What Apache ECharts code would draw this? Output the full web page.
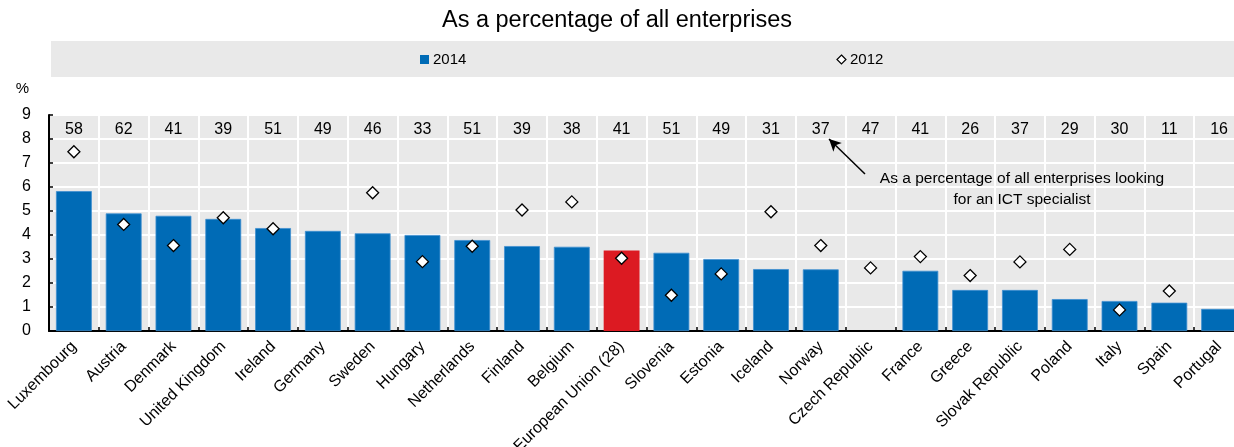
<!DOCTYPE html>
<html>
<head>
<meta charset="utf-8">
<script src="https://cdn.jsdelivr.net/npm/echarts@6/dist/echarts.min.js"></script>
<style>
html,body{margin:0;padding:0;background:#fff;}
#c{width:1234px;height:447px;}
</style>
</head>
<body>
<div id="c"></div>
<script>
const categories = ['Luxembourg','Austria','Denmark','United Kingdom','Ireland','Germany','Sweden','Hungary','Netherlands','Finland','Belgium','European Union (28)','Slovenia','Estonia','Iceland','Norway','Czech Republic','France','Greece','Slovak Republic','Poland','Italy','Spain','Portugal'];
const values2014 = [5.83, 4.90, 4.80, 4.67, 4.29, 4.17, 4.07, 4.00, 3.79, 3.54, 3.51, 3.35, 3.26, 3.00, 2.58, 2.57, null, 2.51, 1.71, 1.71, 1.33, 1.25, 1.18, 0.92];
const values2012 = [7.47, 4.44, 3.56, 4.72, 4.26, null, 5.76, 2.89, 3.53, 5.04, 5.38, 3.03, 1.49, 2.38, 4.97, 3.56, 2.63, 3.10, 2.31, 2.88, 3.40, 0.88, 1.67, null];
const pctLooking = [58, 62, 41, 39, 51, 49, 46, 33, 51, 39, 38, 41, 51, 49, 31, 37, 47, 41, 26, 37, 29, 30, 11, 16];
const yTicks = [0, 1, 2, 3, 4, 5, 6, 7, 8, 9];
const highlight = 'European Union (28)';
const titleText = 'As a percentage of all enterprises';
const noteText = 'As a percentage of all enterprises looking\nfor an ICT specialist';

const SANS = "'Liberation Sans',Arial,sans-serif";
const BLUE = '#006bb6', BLUE_EDGE = '#3f8fd0', RED = '#dc1a22', GREY = '#e9e9e9';

const chart = echarts.init(document.getElementById('c'), null, {renderer: 'canvas'});
chart.setOption({
  animation: false,
  backgroundColor: '#fff',
  title: {
    text: titleText, left: 'center', top: 9, padding: 0,
    textStyle: {fontFamily: SANS, fontSize: 23.5, fontWeight: 'normal', color: '#000'}
  },
  graphic: [
    {type: 'rect', left: 51, top: 41, shape: {width: 1200, height: 36}, style: {fill: GREY}, z: -1, silent: true},
    {type: 'text', x: 1022, y: 168, z: 100, silent: true,
     style: {text: noteText, fontFamily: SANS, fontSize: 15.5, lineHeight: 21, fill: '#000', align: 'center', verticalAlign: 'top'}}
  ],
  legend: {
    left: 420, top: 52, padding: 0, itemGap: 370, itemWidth: 9, itemHeight: 9,
    textStyle: {fontFamily: SANS, fontSize: 15, color: '#000', padding: [0, 0, 0, -1]},
    data: [
      {name: '2014', icon: 'rect', itemStyle: {color: BLUE, borderWidth: 0}},
      {name: '2012', icon: 'diamond', itemStyle: {color: '#fff', borderColor: '#000', borderWidth: 1.2}}
    ]
  },
  grid: {left: 49, width: 1195, top: 115, bottom: 116, show: true, backgroundColor: GREY, borderWidth: 0,
         containLabel: false, outerBoundsMode: 'none'},
  xAxis: [
    {
      type: 'category', data: categories, boundaryGap: true,
      axisLine: {show: true, lineStyle: {color: '#000', width: 2}},
      axisTick: {show: true, inside: true, length: 4, lineStyle: {color: '#000', width: 1.5}},
      splitLine: {show: true, lineStyle: {color: '#fff', width: 2}},
      axisLabel: {interval: 0, rotate: 45, margin: 13, fontFamily: SANS, fontSize: 16, color: '#000'}
    },
    {
      type: 'category', data: pctLooking.map(String), position: 'top', boundaryGap: true,
      axisLine: {show: false}, axisTick: {show: false}, splitLine: {show: false},
      axisLabel: {inside: true, interval: 0, margin: 7, fontFamily: SANS, fontSize: 16, color: '#000'}
    }
  ],
  yAxis: {
    type: 'value', min: yTicks[0], max: yTicks[yTicks.length - 1], interval: 1,
    name: '%', nameLocation: 'end', nameGap: 19,
    nameTextStyle: {fontFamily: SANS, fontSize: 15, color: '#000', align: 'right', padding: [0, 20, 0, 0]},
    axisLine: {show: true, lineStyle: {color: '#000', width: 2}},
    axisTick: {show: true, inside: true, length: 4, lineStyle: {color: '#000', width: 1.5}},
    splitLine: {show: true, lineStyle: {color: '#fff', width: 2}},
    axisLabel: {margin: 18, fontFamily: SANS, fontSize: 16, color: '#000'}
  },
  series: [
    {
      name: '2014', type: 'bar', barWidth: '72%',
      itemStyle: {color: BLUE, borderColor: BLUE_EDGE, borderWidth: 0.8},
      data: values2014.map((v, i) => categories[i] === highlight ? {value: v, itemStyle: {color: RED, borderWidth: 0}} : v),
      z: 2
    },
    {
      name: '2012', type: 'scatter', symbol: 'diamond', symbolSize: 12,
      itemStyle: {color: '#fff', borderColor: '#000', borderWidth: 1.3, opacity: 1},
      data: values2012,
      z: 3,
      markLine: {
        silent: true, symbol: ['none', 'arrow'], symbolSize: [9, 12],
        label: {show: false},
        lineStyle: {color: '#000', width: 1.5, type: 'solid'},
        data: [[{x: 865, y: 174}, {x: 829, y: 139}]]
      }
    }
  ]
});
</script>
</body>
</html>
